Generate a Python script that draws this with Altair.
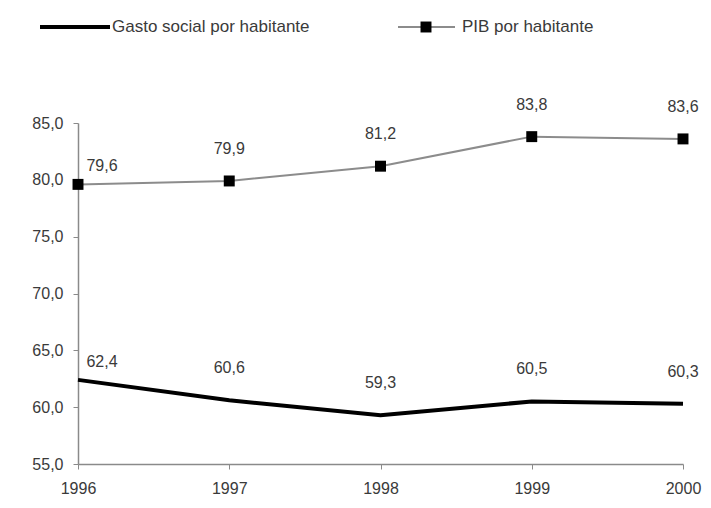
import altair as alt
import pandas as pd

years = [1996, 1997, 1998, 1999, 2000]
gasto = [62.4, 60.6, 59.3, 60.5, 60.3]
pib = [79.6, 79.9, 81.2, 83.8, 83.6]
series_names = ["Gasto social por habitante", "PIB por habitante"]
y_ticks = [55, 60, 65, 70, 75, 80, 85]

rows = []
for y, v in zip(years, gasto):
    rows.append({"year": y, "value": v, "series": series_names[0]})
for y, v in zip(years, pib):
    rows.append({"year": y, "value": v, "series": series_names[1]})
df = pd.DataFrame(rows)

FONT = "Liberation Sans"
TXT = "#3a3a3a"
AX = "#8a8a8a"

base = alt.Chart(df).encode(
    x=alt.X("year:O", scale=alt.Scale(padding=0),
            axis=alt.Axis(title=None, labelAngle=0, domainColor=AX, domainWidth=1.5,
                          tickColor=AX, tickSize=5, labelPadding=11, grid=False,
                          labelFont=FONT, labelFontSize=16, labelColor=TXT)),
    y=alt.Y("value:Q", scale=alt.Scale(domain=[55, 85], nice=False, zero=False),
            axis=alt.Axis(title=None, values=y_ticks, grid=False, domainColor=AX,
                          domainWidth=1.5, tickColor=AX, tickSize=5, labelPadding=10,
                          labelExpr="replace(format(datum.value, '.1f'), '.', ',')",
                          labelFont=FONT, labelFontSize=16, labelColor=TXT)),
)

gasto_line = base.transform_filter(alt.datum.series == series_names[0]).mark_line(
    color="black", strokeWidth=4)
pib_line = base.transform_filter(alt.datum.series == series_names[1]).mark_line(
    color="#8c8c8c", strokeWidth=2)
pib_pts = base.transform_filter(alt.datum.series == series_names[1]).mark_square(
    color="black", size=120, opacity=1)

lab = base.transform_calculate(
    lbl="replace(format(datum.value, '.1f'), '.', ',')")
labels_rest = lab.transform_filter(alt.datum.year != 1996).mark_text(
    dy=-32, font=FONT, fontSize=16, color=TXT).encode(text="lbl:N")
labels_first = lab.transform_filter(alt.datum.year == 1996).mark_text(
    dx=24, dy=-18, font=FONT, fontSize=16, color=TXT).encode(text="lbl:N")

one = pd.DataFrame({"a": [0]})
leg_y = -96
leg1_line = alt.Chart(one).mark_rule(color="black", strokeWidth=4).encode(
    x=alt.value(-38), x2=alt.value(32), y=alt.value(leg_y))
leg1_text = alt.Chart(one).mark_text(align="left", baseline="middle", font=FONT,
                                     fontSize=17, color=TXT).encode(
    x=alt.value(34), y=alt.value(leg_y), text=alt.value(series_names[0]))
leg2_line = alt.Chart(one).mark_rule(color="#8c8c8c", strokeWidth=2).encode(
    x=alt.value(320), x2=alt.value(377), y=alt.value(leg_y))
leg2_pt = alt.Chart(one).mark_square(color="black", size=120, opacity=1).encode(
    x=alt.value(348), y=alt.value(leg_y))
leg2_text = alt.Chart(one).mark_text(align="left", baseline="middle", font=FONT,
                                     fontSize=17, color=TXT).encode(
    x=alt.value(384), y=alt.value(leg_y), text=alt.value(series_names[1]))

chart = alt.layer(
    gasto_line, pib_line, pib_pts, labels_rest, labels_first,
    leg1_line, leg1_text, leg2_line, leg2_pt, leg2_text
).properties(
    width=605, height=341,
    autosize=alt.AutoSizeParams(type="none"),
    padding={"left": 70, "top": 115, "right": 20, "bottom": 36},
    background="white",
).configure_view(stroke=None)

chart.save("out.html", embed_options={"renderer": "svg", "actions": False})
